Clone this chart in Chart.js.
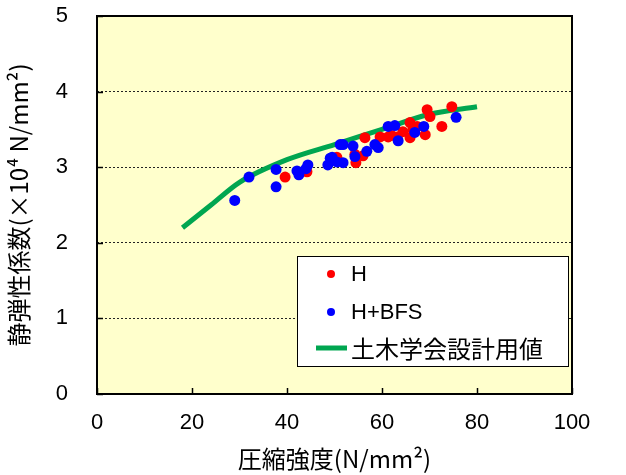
<!DOCTYPE html>
<html>
<head>
<meta charset="utf-8">
<script src="https://cdn.jsdelivr.net/npm/chart.js@4/dist/chart.umd.min.js"></script>
<style>
  html, body { margin: 0; padding: 0; background: #fff; }
  #wrap { width: 626px; height: 475px; }
</style>
</head>
<body>
<div id="wrap"><canvas id="chart" width="626" height="475"></canvas></div>
<script>
// H series (compressive strength N/mm2, static modulus x10^4 N/mm2)
const hStrength = [39.6, 44.2, 50.5, 54.5, 54.3, 56.0, 56.4, 59.6, 61.3, 62.0, 63.2, 64.4, 65.9, 65.9, 66.5, 67.4, 69.1, 69.5, 70.1, 72.6, 74.7];
const hModulus  = [2.87, 2.94, 3.13, 3.06, 3.17, 3.15, 3.39, 3.40, 3.40, 3.42, 3.40, 3.47, 3.59, 3.39, 3.50, 3.54, 3.43, 3.76, 3.67, 3.54, 3.80];

// H+BFS series
const bfsStrength = [29.0, 32.0, 37.7, 37.7, 42.1, 42.5, 44.0, 44.4, 48.6, 49.1, 49.5, 50.5, 51.2, 51.8, 51.8, 53.9, 54.3, 56.8, 58.5, 59.2, 61.3, 62.7, 63.4, 66.9, 68.8, 75.6];
const bfsModulus  = [2.56, 2.87, 2.97, 2.74, 2.95, 2.90, 2.98, 3.03, 3.03, 3.12, 3.13, 3.07, 3.30, 3.06, 3.30, 3.28, 3.14, 3.21, 3.30, 3.26, 3.54, 3.55, 3.35, 3.46, 3.54, 3.66];

// JSCE design values
const designStrength = [18, 24, 30, 40, 50, 60, 70, 80];
const designModulus  = [2.2, 2.5, 2.8, 3.1, 3.3, 3.5, 3.7, 3.8];

const xTicks = [0, 20, 40, 60, 80, 100];
const yTicks = [0, 1, 2, 3, 4, 5];

const seriesLabels = ["H", "H+BFS", "土木学会設計用値"];

const toPoints = (xs, ys) => xs.map((x, i) => ({ x: x, y: ys[i] }));

const numFont = "'Liberation Sans', Arial, sans-serif";
const jpFont = "'Noto Sans CJK JP', sans-serif";

// yellow plot background + border + inner tick marks
const plotFrame = {
  id: "plotFrame",
  beforeDraw(chart) {
    const { ctx, chartArea: a } = chart;
    ctx.save();
    ctx.fillStyle = "#ffffcc";
    ctx.fillRect(a.left, a.top, a.right - a.left, a.bottom - a.top);
    ctx.restore();
  },
  afterDraw(chart) {
    const { ctx, chartArea: a, scales } = chart;
    ctx.save();
    ctx.strokeStyle = "#000";
    ctx.lineWidth = 1.5;
    xTicks.forEach((v) => {
      const px = Math.round(scales.x.getPixelForValue(v)) + 0.5;
      ctx.beginPath();
      ctx.moveTo(px, a.bottom);
      ctx.lineTo(px, a.bottom - 6);
      ctx.stroke();
    });
    yTicks.forEach((v) => {
      const py = Math.round(scales.y.getPixelForValue(v)) + 0.5;
      ctx.beginPath();
      ctx.moveTo(a.left, py);
      ctx.lineTo(a.left + 6, py);
      ctx.stroke();
    });
    ctx.lineWidth = 2;
    ctx.strokeRect(a.left, a.top, a.right - a.left, a.bottom - a.top);
    ctx.restore();
  },
};

// legend box inside the plot
const boxLegend = {
  id: "boxLegend",
  afterDatasetsDraw(chart) {
    const { ctx, chartArea: a } = chart;
    const ds = chart.data.datasets;
    const left = a.left + 200, top = a.top + 240, w = 271, h = 110;
    ctx.save();
    ctx.fillStyle = "#fff";
    ctx.fillRect(left, top, w, h);
    ctx.strokeStyle = "#000";
    ctx.lineWidth = 1;
    ctx.strokeRect(left + 0.5, top + 0.5, w, h);
    ctx.textBaseline = "middle";
    ctx.fillStyle = "#000";
    const rows = [top + 18, top + 56, top + 92];
    [0, 1].forEach((i) => {
      ctx.beginPath();
      ctx.fillStyle = ds[i].backgroundColor;
      ctx.arc(left + 34, rows[i], 4, 0, Math.PI * 2);
      ctx.fill();
      ctx.fillStyle = "#000";
      ctx.font = "22px 'Liberation Sans', Arial, sans-serif";
      ctx.fillText(ds[i].label, left + 54, rows[i] + 1);
    });
    ctx.strokeStyle = ds[2].borderColor;
    ctx.lineWidth = 5;
    ctx.beginPath();
    ctx.moveTo(left + 19, rows[2]);
    ctx.lineTo(left + 50, rows[2]);
    ctx.stroke();
    ctx.font = "24px " + jpFont;
    ctx.fillText(ds[2].label, left + 54, rows[2] + 1);
    ctx.restore();
  },
};

new Chart(document.getElementById("chart"), {
  type: "scatter",
  data: {
    datasets: [
      {
        label: seriesLabels[0],
        data: toPoints(hStrength, hModulus),
        backgroundColor: "#ff0000",
        borderColor: "#ff0000",
        pointRadius: 5.5,
        pointBorderWidth: 0,
        order: 2,
      },
      {
        label: seriesLabels[1],
        data: toPoints(bfsStrength, bfsModulus),
        backgroundColor: "#0000ff",
        borderColor: "#0000ff",
        pointRadius: 5.5,
        pointBorderWidth: 0,
        order: 1,
      },
      {
        label: seriesLabels[2],
        data: toPoints(designStrength, designModulus),
        showLine: true,
        borderColor: "#00a650",
        backgroundColor: "#00a650",
        borderWidth: 5,
        pointRadius: 0,
        cubicInterpolationMode: "monotone",
        order: 3,
      },
    ],
  },
  options: {
    responsive: false,
    animation: false,
    layout: { padding: { top: 16, right: 54, left: 0, bottom: 0 } },
    plugins: {
      legend: { display: false },
      tooltip: { enabled: false },
    },
    scales: {
      x: {
        type: "linear",
        min: 0,
        max: 100,
        afterBuildTicks: (s) => { s.ticks = xTicks.map((v) => ({ value: v })); },
        afterFit: (s) => {
          s.height = 81;
          s.paddingLeft = 0;
          s.paddingRight = 0;
          s.paddingTop = 0;
          s.paddingBottom = 0;
        },
        grid: { display: false, drawTicks: false },
        border: { display: false },
        ticks: {
          color: "#000",
          padding: 16,
          font: { family: numFont, size: 22 },
        },
        title: {
          display: true,
          text: "圧縮強度(N/mm²)",
          color: "#000",
          font: { family: jpFont, size: 24 },
          padding: { top: 0, bottom: 2 },
        },
      },
      y: {
        type: "linear",
        min: 0,
        max: 5,
        afterBuildTicks: (s) => { s.ticks = yTicks.map((v) => ({ value: v })); },
        afterFit: (s) => {
          s.width = 97;
          s.paddingTop = 0;
          s.paddingBottom = 0;
          s.paddingLeft = 0;
          s.paddingRight = 0;
        },
        grid: {
          color: "#222",
          lineWidth: 1,
          drawTicks: false,
        },
        border: { display: false, dash: [2, 2] },
        ticks: {
          color: "#000",
          padding: 29,
          font: { family: numFont, size: 22 },
        },
        title: {
          display: true,
          text: "静弾性係数(×10⁴ N/mm²)",
          color: "#000",
          font: { family: jpFont, size: 24 },
          padding: { top: 4, bottom: 0 },
        },
      },
    },
  },
  plugins: [plotFrame, boxLegend],
});
</script>
</body>
</html>
